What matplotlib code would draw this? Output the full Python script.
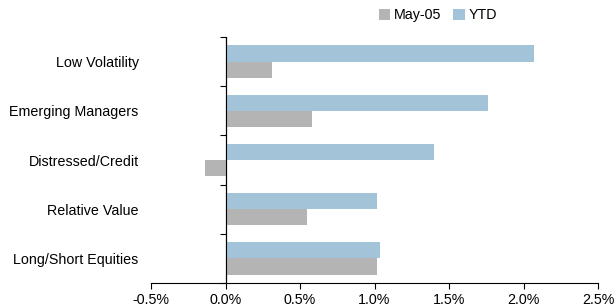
import matplotlib
matplotlib.use("Agg")
import matplotlib.pyplot as plt
import numpy as np
from matplotlib.ticker import FuncFormatter

categories = ["Low Volatility", "Emerging Managers", "Distressed/Credit",
              "Relative Value", "Long/Short Equities"]
may05 = [0.31, 0.58, -0.14, 0.55, 1.02]
ytd = [2.07, 1.76, 1.40, 1.02, 1.04]
xticks = [-0.5, 0.0, 0.5, 1.0, 1.5, 2.0, 2.5]

plt.rcParams['font.family'] = ['Liberation Sans', 'DejaVu Sans']
plt.rcParams['font.size'] = 10.3

fig = plt.figure(figsize=(6.16, 3.08), dpi=100)
ax = fig.add_axes([151/616, 1-283/308, 447/616, 246/308])

n = len(categories)
pos = np.arange(n)[::-1].astype(float)  # top category at highest y
h = 0.33
ax.barh(pos + h/2, ytd, height=h, color='#A3C4D8', label='YTD', zorder=2)
ax.barh(pos - h/2, may05, height=h, color='#B4B4B4', label='May-05', zorder=2)

ax.set_xlim(-0.5, 2.5)
ax.set_ylim(-0.5, n - 0.5)
ax.set_xticks(xticks)
ax.xaxis.set_major_formatter(FuncFormatter(lambda v, p: f"{v:.1f}%"))
ax.tick_params(axis='x', direction='out', length=4, width=0.8, pad=3, colors='black')

ax.set_yticks(pos)
ax.set_yticklabels(categories)
ax.tick_params(axis='y', length=0, pad=9)

for s in ['top', 'right', 'left']:
    ax.spines[s].set_visible(False)
ax.spines['bottom'].set_linewidth(0.8)

ax.axvline(0, color='black', lw=0.8, zorder=3)
sec = ax.secondary_yaxis(0, transform=ax.transData)
sec.set_yticks(np.arange(n + 1) - 0.5)
sec.set_yticklabels([])
sec.tick_params(axis='y', direction='out', length=4, width=0.8)
sec.spines['left'].set_linewidth(0.8)

handles, labels = ax.get_legend_handles_labels()
leg = fig.legend(handles[::-1], labels[::-1], loc='center', bbox_to_anchor=(438/616, 1-15/308),
                 ncol=2, frameon=False, handlelength=0.8, handleheight=0.8,
                 handletextpad=0.3, columnspacing=0.8)

fig.savefig("out.png", dpi=100)
